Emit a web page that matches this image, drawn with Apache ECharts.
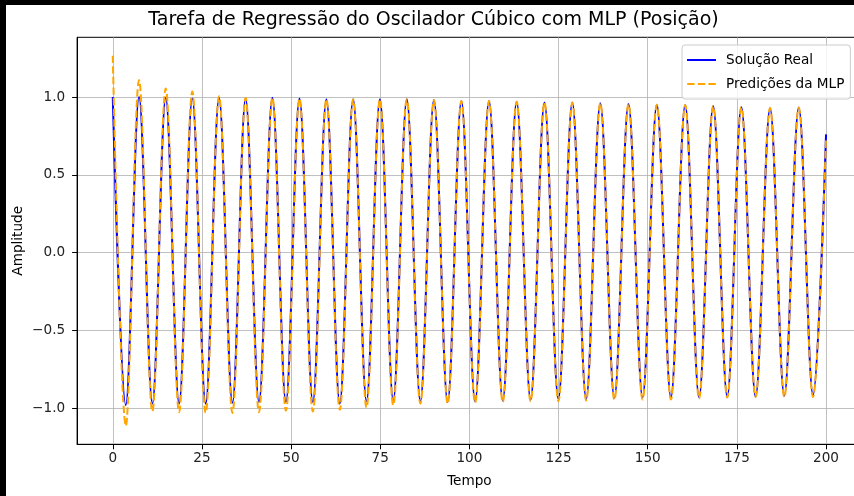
<!DOCTYPE html>
<html>
<head>
<meta charset="utf-8">
<script src="https://cdn.jsdelivr.net/npm/echarts@6/dist/echarts.min.js"></script>
<style>
  html, body { margin: 0; padding: 0; background: #000; overflow: hidden; width: 854px; height: 496px; }
  #chart { position: absolute; left: 6px; top: 5px; width: 927px; height: 491px; background: #fff; }
</style>
</head>
<body>
<div id="chart"></div>
<script>
// Turning points (peaks and troughs) of the position signal, plus its end point
const tempo = [
  0, 3.65, 7.37, 11.1, 14.85, 18.6, 22.3, 26.05, 29.8, 33.55,
  37.25, 41.0, 44.75, 48.55, 52.35, 56.1, 59.9, 63.65, 67.4, 71.15,
  74.9, 78.65, 82.45, 86.25, 90.05, 93.9, 97.75, 101.6, 105.5, 109.35,
  113.25, 117.15, 121.05, 124.95, 128.85, 132.75, 136.7, 140.65, 144.6, 148.55,
  152.55, 156.5, 160.5, 164.4, 168.35, 172.3, 176.25, 180.25, 184.3, 188.3,
  192.35, 196.35, 200
];
const solucaoReal = [
  1.0, -0.98, 1.0, -0.97, 0.995, -0.97, 0.99, -0.97, 0.995, -0.965,
  0.99, -0.96, 0.995, -0.96, 0.99, -0.96, 0.985, -0.97, 0.985, -0.955,
  0.985, -0.95, 0.985, -0.955, 0.98, -0.96, 0.975, -0.955, 0.975, -0.95,
  0.97, -0.945, 0.965, -0.94, 0.965, -0.94, 0.96, -0.935, 0.955, -0.93,
  0.95, -0.93, 0.948, -0.93, 0.942, -0.925, 0.935, -0.925, 0.928, -0.92,
  0.932, -0.915, 0.76
];
const predicoesMLP = [
  1.265, -1.112, 1.11, -1.02, 1.055, -1.025, 1.035, -1.03, 1.005, -1.03,
  0.995, -1.025, 0.995, -1.015, 0.99, -1.02, 0.985, -1.01, 0.985, -0.995,
  0.985, -0.98, 0.985, -0.97, 0.98, -0.97, 0.975, -0.965, 0.975, -0.96,
  0.97, -0.955, 0.965, -0.955, 0.965, -0.95, 0.96, -0.945, 0.955, -0.944,
  0.95, -0.944, 0.948, -0.938, 0.942, -0.931, 0.935, -0.927, 0.93, -0.927,
  0.932, -0.927, 0.74
];
const xTicks = [0, 25, 50, 75, 100, 125, 150, 175, 200];
const yTicks = [-1.0, -0.5, 0.0, 0.5, 1.0];

const FONT = 'DejaVu Sans';
const pairs = (xs, ys) => xs.map((x, i) => [x, ys[i]]);
const fmtY = v => (v < 0 ? '\u2212' : '') + Math.abs(v).toFixed(1);

// Legend keys drawn as short line samples: solid, and three dashes
const solidKey = 'path://M0,0H29V2H0Z';
const dashKey = 'path://M0,0H7.4V2H0Z M10.6,0H18V2H10.6Z M21.2,0H28.6V2H21.2Z';

const chart = echarts.init(document.getElementById('chart'), null, { renderer: 'canvas' });
chart.setOption({
  animation: false,
  backgroundColor: '#fff',
  graphic: [{
    type: 'text',
    x: 427.5,
    y: 5.5,
    style: {
      text: 'Tarefa de Regressão do Oscilador Cúbico com MLP (Posição)',
      fontFamily: FONT,
      fontSize: 19,
      fill: '#000',
      textAlign: 'center',
      textVerticalAlign: 'top'
    }
  }],
  legend: {
    orient: 'vertical',
    left: 676,
    top: 40,
    padding: [7, 6, 7, 5],
    itemGap: 8,
    itemWidth: 29,
    itemHeight: 2,
    backgroundColor: 'rgba(255,255,255,0.8)',
    borderColor: '#cccccc',
    borderWidth: 1,
    borderRadius: 3,
    textStyle: { fontFamily: FONT, fontSize: 13.6, color: '#000', padding: [0, 0, 0, 5], lineHeight: 16 },
    data: [
      { name: 'Solução Real', icon: solidKey },
      { name: 'Predições da MLP', icon: dashKey }
    ]
  },
  grid: {
    left: 71.1,
    right: 71.3,
    top: 32.3,
    bottom: 51.7,
    show: true,
    borderColor: '#000',
    borderWidth: 1,
    containLabel: false,
    outerBoundsMode: 'none'
  },
  xAxis: {
    type: 'value',
    min: -10,
    max: 210,
    name: 'Tempo',
    nameLocation: 'middle',
    nameGap: 30,
    nameMoveOverlap: false,
    nameTextStyle: { fontFamily: FONT, fontSize: 13.6, color: '#000' },
    axisLine: { show: true, onZero: false, lineStyle: { color: '#000', width: 1 } },
    axisTick: { show: true, inside: false, length: 5, customValues: xTicks, lineStyle: { color: '#000', width: 1 } },
    axisLabel: { customValues: xTicks, margin: 7, fontFamily: FONT, fontSize: 13.6, color: '#222',
                 formatter: v => String(v) },
    splitLine: { show: true, lineStyle: { color: '#b0b0b0', width: 0.8 } }
  },
  yAxis: {
    type: 'value',
    min: -1.2313,
    max: 1.3836,
    name: 'Amplitude',
    nameLocation: 'middle',
    nameGap: 52,
    nameRotate: 90,
    nameMoveOverlap: false,
    nameTextStyle: { fontFamily: FONT, fontSize: 13.6, color: '#000' },
    axisLine: { show: true, onZero: false, lineStyle: { color: '#000', width: 1 } },
    axisTick: { show: true, inside: false, length: 5, customValues: yTicks, lineStyle: { color: '#000', width: 1 } },
    axisLabel: { customValues: yTicks, margin: 12, fontFamily: FONT, fontSize: 13.6, color: '#222',
                 formatter: fmtY },
    splitLine: { show: true, lineStyle: { color: '#b0b0b0', width: 0.8 } }
  },
  series: [
    {
      name: 'Solução Real',
      type: 'line',
      data: pairs(tempo, solucaoReal),
      smooth: 0.36,
      showSymbol: false,
      symbol: 'none',
      lineStyle: { color: '#0000ff', width: 2 },
      itemStyle: { color: '#0000ff' },
      z: 2
    },
    {
      name: 'Predições da MLP',
      type: 'line',
      data: pairs(tempo, predicoesMLP),
      smooth: 0.36,
      showSymbol: false,
      symbol: 'none',
      lineStyle: { color: '#ffa500', width: 2, type: [7.4, 3.2] },
      itemStyle: { color: '#ffa500' },
      z: 3
    }
  ]
});
</script>
</body>
</html>
